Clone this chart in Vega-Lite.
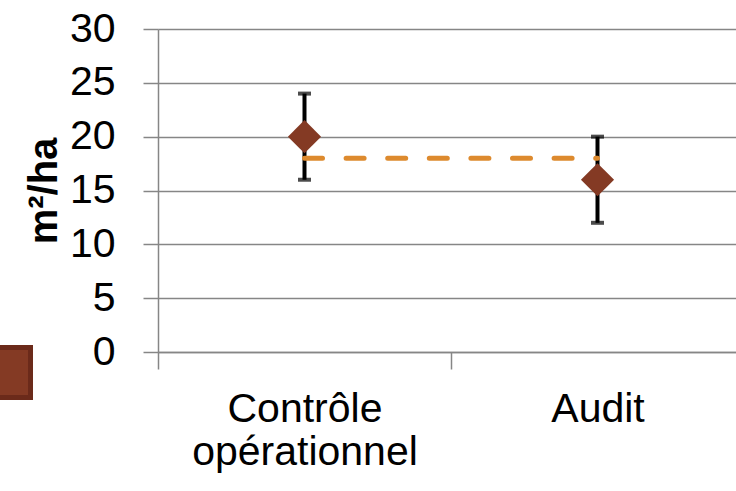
{
  "$schema": "https://vega.github.io/schema/vega-lite/v6.json",
  "width": 586,
  "height": 323,
  "autosize": {"type": "none"},
  "padding": {"left": 158, "top": 29, "right": 0, "bottom": 139},
  "background": "white",
  "config": {
    "font": "Liberation Sans Narrow, Liberation Sans, sans-serif",
    "view": {"stroke": null},
    "axisY": {
      "domainColor": "#868686", "domainWidth": 1.5,
      "tickColor": "#868686", "tickWidth": 1.5, "tickSize": 15,
      "gridColor": "#868686", "gridWidth": 1.5,
      "labelFontSize": 41, "labelColor": "#000000", "labelPadding": 28,
      "titleFontSize": 40, "titleFontWeight": "bold", "titleColor": "#000000",
      "titleX": -102, "titleBaseline": "alphabetic"
    },
    "axisX": {
      "domainColor": "#868686", "domainWidth": 1.5,
      "tickColor": "#868686", "tickWidth": 1.5, "tickSize": 17,
      "tickBand": "extent", "grid": false,
      "labelFontSize": 41, "labelColor": "#000000", "labelPadding": 20,
      "labelLineHeight": 43, "labelAngle": 0, "labelLimit": 0
    }
  },
  "datasets": {
    "points": [
      {"categorie": "Contrôle opérationnel", "valeur": 20, "bas": 16, "haut": 24, "serie": "Série 1"},
      {"categorie": "Audit", "valeur": 16, "bas": 12, "haut": 20, "serie": "Série 1"}
    ],
    "moyenne": [
      {"categorie": "Contrôle opérationnel", "moyenne": 18},
      {"categorie": "Audit", "moyenne": 18}
    ]
  },
  "encoding": {
    "x": {
      "field": "categorie", "type": "nominal",
      "sort": ["Contrôle opérationnel", "Audit"],
      "scale": {"paddingInner": 0, "paddingOuter": 0},
      "axis": {"title": null, "labelExpr": "datum.value == 'Contrôle opérationnel' ? ['Contrôle', 'opérationnel'] : datum.value"}
    }
  },
  "layer": [
    {
      "data": {"name": "points"},
      "mark": {"type": "rule", "color": "#000000", "strokeWidth": 4},
      "encoding": {
        "y": {"field": "bas", "type": "quantitative", "title": "m²/ha",
              "scale": {"domain": [0, 30], "nice": false},
              "axis": {"values": [0, 5, 10, 15, 20, 25, 30]}},
        "y2": {"field": "haut"}
      }
    },
    {
      "data": {"name": "points"},
      "mark": {"type": "tick", "color": "#000000", "thickness": 4, "size": 13},
      "encoding": {"y": {"field": "bas", "type": "quantitative", "title": "m²/ha"}}
    },
    {
      "data": {"name": "points"},
      "mark": {"type": "tick", "color": "#000000", "thickness": 4, "size": 13},
      "encoding": {"y": {"field": "haut", "type": "quantitative", "title": "m²/ha"}}
    },
    {
      "data": {"name": "moyenne"},
      "mark": {"type": "line", "color": "#DD8A2E", "strokeWidth": 5, "strokeCap": "round", "strokeDash": [18, 23.6]},
      "encoding": {"y": {"field": "moyenne", "type": "quantitative", "title": "m²/ha"}}
    },
    {
      "data": {"name": "points"},
      "mark": {"type": "point", "shape": "diamond", "filled": true, "size": 1100, "opacity": 1},
      "encoding": {
        "y": {"field": "valeur", "type": "quantitative", "title": "m²/ha"},
        "color": {
          "field": "serie", "type": "nominal",
          "scale": {"range": ["#843A24"]},
          "legend": {
            "orient": "none", "legendX": -180, "legendY": 316, "padding": 0,
            "title": null, "labelExpr": "''", "symbolType": "square",
            "symbolSize": 2500, "symbolStrokeColor": "#6B2A1A", "symbolStrokeWidth": 5,
            "symbolOpacity": 1, "symbolOffset": 0
          }
        }
      }
    }
  ]
}
